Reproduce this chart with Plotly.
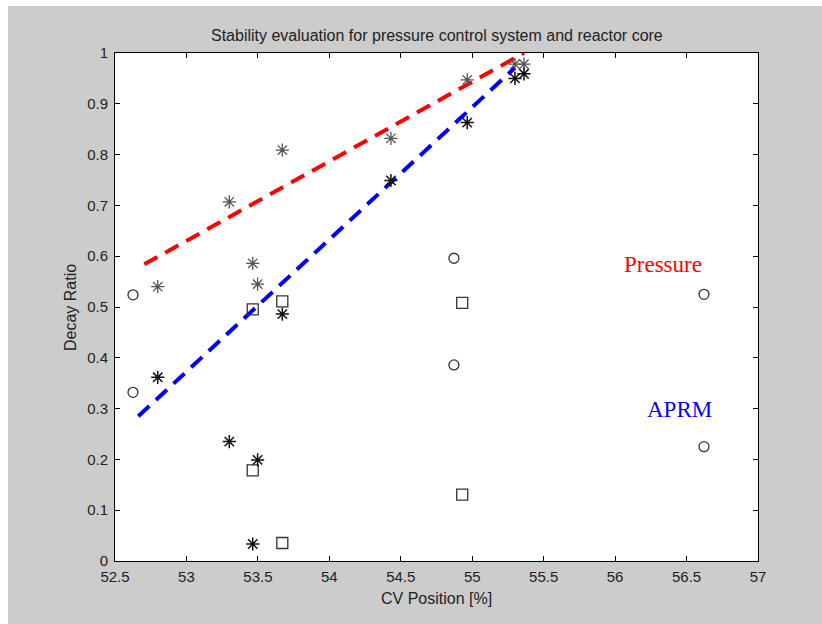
import plotly.graph_objects as go

# ---- data ----
circ_x = [52.626, 52.626, 54.872, 54.872, 56.622, 56.622]
circ_y = [0.524, 0.332, 0.596, 0.386, 0.525, 0.225]

sq_x = [53.464, 53.671, 53.464, 53.671, 54.93, 54.93]
sq_y = [0.4955, 0.511, 0.1785, 0.0354, 0.508, 0.1305]

pres_x = [52.799, 53.464, 53.498, 53.30, 53.671, 54.431, 54.965, 55.299, 55.362]
pres_y = [0.540, 0.586, 0.545, 0.707, 0.809, 0.832, 0.947, 0.978, 0.978]

aprm_x = [52.799, 53.671, 53.30, 53.498, 53.464, 54.431, 54.965, 55.299, 55.362]
aprm_y = [0.3616, 0.486, 0.235, 0.199, 0.0335, 0.749, 0.863, 0.950, 0.959]

red_fit_x = [52.705, 55.362]
red_fit_y = [0.584, 1.0]
blue_fit_x = [52.663, 55.299]
blue_fit_y = [0.285, 0.971]

x_ticks = [52.5, 53, 53.5, 54, 54.5, 55, 55.5, 56, 56.5, 57]
x_labels = ["52.5", "53", "53.5", "54", "54.5", "55", "55.5", "56", "56.5", "57"]
y_ticks = [0, 0.1, 0.2, 0.3, 0.4, 0.5, 0.6, 0.7, 0.8, 0.9, 1]
y_labels = ["0", "0.1", "0.2", "0.3", "0.4", "0.5", "0.6", "0.7", "0.8", "0.9", "1"]

FONT = "Liberation Sans, Arial"

fig = go.Figure()

fig.add_trace(go.Scatter(x=red_fit_x, y=red_fit_y, mode="lines",
                         line=dict(color="#ff0000", width=4, dash="15px,9px"),
                         showlegend=False, hoverinfo="skip"))
fig.add_trace(go.Scatter(x=blue_fit_x, y=blue_fit_y, mode="lines",
                         line=dict(color="#0000ff", width=4, dash="15px,9px"),
                         showlegend=False, hoverinfo="skip"))

fig.add_trace(go.Scatter(x=circ_x, y=circ_y, mode="markers",
                         marker=dict(symbol="circle-open", size=10,
                                     color="#333333", line=dict(width=1.3, color="#333333")),
                         showlegend=False))
fig.add_trace(go.Scatter(x=sq_x, y=sq_y, mode="markers",
                         marker=dict(symbol="square-open", size=11,
                                     color="#333333", line=dict(width=1.3, color="#333333")),
                         showlegend=False))
fig.add_trace(go.Scatter(x=pres_x, y=pres_y, mode="markers",
                         marker=dict(symbol="asterisk-open", size=11,
                                     color="#555555", line=dict(width=1.3, color="#555555")),
                         showlegend=False))
fig.add_trace(go.Scatter(x=aprm_x, y=aprm_y, mode="markers",
                         marker=dict(symbol="asterisk-open", size=11,
                                     color="#111111", line=dict(width=1.5, color="#111111")),
                         showlegend=False))

axis_common = dict(showline=True, linecolor="#000000", linewidth=1, mirror="allticks",
                   ticks="inside", ticklen=5, tickcolor="#000000", showgrid=False,
                   zeroline=False, tickfont=dict(family=FONT, size=15, color="#222222"))

fig.update_xaxes(range=[52.5, 57], tickvals=x_ticks, ticktext=x_labels,
                 ticklabelstandoff=2, **axis_common)
fig.update_yaxes(range=[0, 1], tickvals=y_ticks, ticktext=y_labels,
                 ticklabelstandoff=3, **axis_common)

annotations = [
    dict(text="Stability evaluation for pressure control system and reactor core",
         xref="paper", yref="paper", x=0.5, y=1.035, xanchor="center", yanchor="middle",
         showarrow=False, font=dict(family=FONT, size=16, color="#222222")),
    dict(text="CV Position [%]", xref="paper", yref="paper", x=0.5, y=-0.073,
         xanchor="center", yanchor="middle", showarrow=False,
         font=dict(family=FONT, size=16, color="#222222")),
    dict(text="Decay Ratio", xref="paper", yref="paper", x=-0.07, y=0.5, textangle=-90,
         xanchor="center", yanchor="middle", showarrow=False,
         font=dict(family=FONT, size=16, color="#222222")),
    dict(text="Pressure", xref="x", yref="y", x=56.335, y=0.583, xanchor="center", yanchor="middle",
         showarrow=False, font=dict(family="Liberation Serif, Times New Roman", size=23, color="#ff0000")),
    dict(text="APRM", xref="x", yref="y", x=56.454, y=0.2986, xanchor="center", yanchor="middle",
         showarrow=False, font=dict(family="Liberation Serif, Times New Roman", size=23, color="#0000ff")),
]

shapes = [
    dict(type="rect", xref="paper", yref="paper", x0=-0.2, x1=1.2, y0=1.0925, y1=1.2,
         fillcolor="#ffffff", line=dict(width=0), layer="above"),
    dict(type="rect", xref="paper", yref="paper", x0=-0.2, x1=-0.1664, y0=-0.2, y1=1.2,
         fillcolor="#ffffff", line=dict(width=0), layer="above"),
]

fig.update_layout(width=822, height=624, margin=dict(l=115, r=64, t=53, b=63),
                  paper_bgcolor="#cccccc", plot_bgcolor="#ffffff",
                  annotations=annotations, shapes=shapes, showlegend=False)

fig.write_html("out.html")
